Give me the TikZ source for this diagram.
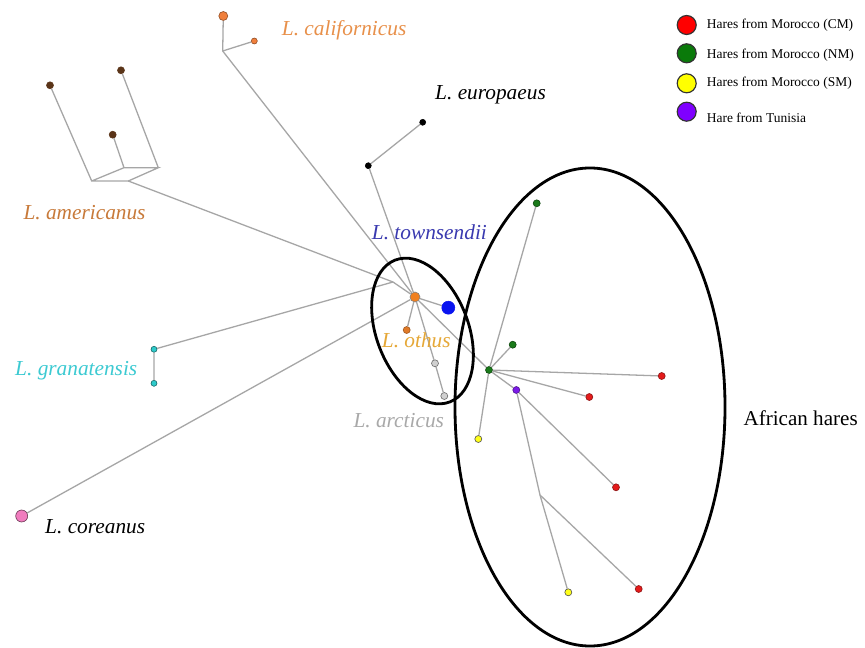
\documentclass[tikz,border=0pt]{standalone}
\usepackage{fontspec}
\setmainfont{Liberation Serif}
\definecolor{linegray}{HTML}{A6A6A6}
\definecolor{calLab}{HTML}{E8904A}
\definecolor{ameLab}{HTML}{C87A3A}
\definecolor{towLab}{HTML}{3A3AB0}
\definecolor{othLab}{HTML}{E6A837}
\definecolor{graLab}{HTML}{3CCAD2}
\definecolor{arcLab}{HTML}{A9A9A9}
\definecolor{calN}{HTML}{F07F3C}
\definecolor{ameN}{HTML}{5A3418}
\definecolor{hubN}{HTML}{F08020}
\definecolor{bluN}{HTML}{0A14F0}
\definecolor{othN}{HTML}{E07A28}
\definecolor{arcN}{HTML}{D0D0D0}
\definecolor{graN}{HTML}{2ECACA}
\definecolor{corN}{HTML}{F07CBE}
\definecolor{grnN}{HTML}{1A7A1A}
\definecolor{redN}{HTML}{E41B1B}
\definecolor{yelN}{HTML}{FFFF1A}
\definecolor{purN}{HTML}{7B1AE8}
\definecolor{legR}{HTML}{FF0000}
\definecolor{legG}{HTML}{0A7A0A}
\definecolor{legY}{HTML}{FFFF00}
\definecolor{legP}{HTML}{7F00FF}
\begin{document}
\begin{tikzpicture}[x=0.03cm,y=-0.03cm,
  br/.style={draw=linegray,line width=1.1pt},
  grp/.style={draw=black,line width=2.4pt},
  dot/.style={circle,inner sep=0pt,line width=0.5pt,minimum size=#1*0.06cm},
  spec/.style={anchor=base west,inner sep=0pt,font=\fontsize{18.2}{21}\selectfont\itshape},
  legtxt/.style={anchor=west,inner sep=0pt,font=\fontsize{11.5}{13}\selectfont},
  legdot/.style={circle,inner sep=0pt,line width=1pt,minimum size=19*0.03cm,draw=black!80}]
\useasboundingbox[fill=white] (0,0) rectangle (865,648);
% nodes
\node[dot=4.5,fill=calN,draw=calN!60!black] (cal1) at (223.3,16) {};
\node[dot=3,fill=calN,draw=calN!60!black] (cal2) at (254.3,41) {};
\coordinate (cj) at (222.7,51);
\node[dot=3.5,fill=ameN,draw=ameN] (am1) at (50,85.3) {};
\node[dot=3.5,fill=ameN,draw=ameN] (am2) at (121,70.3) {};
\node[dot=3.5,fill=ameN,draw=ameN] (am3) at (112.7,134.7) {};
\coordinate (amA) at (91.7,181);
\coordinate (amB) at (128.3,181);
\coordinate (amC) at (124,167.7);
\coordinate (amD) at (158.3,167.7);
\coordinate (J) at (393,282);
\node[dot=3,fill=black,draw=black] (eu1) at (368.3,165.7) {};
\node[dot=3,fill=black,draw=black] (eu2) at (422.7,122.3) {};
\node[dot=5,fill=hubN,draw=gray] (hub) at (415,297) {};
\node[dot=6.5,fill=bluN,draw=bluN] (blu) at (448.3,307.7) {};
\node[dot=3.5,fill=othN,draw=othN!70!black] (oth) at (406.7,330) {};
\node[dot=3.5,fill=arcN,draw=black!60] (arc1) at (435,363.3) {};
\node[dot=3.5,fill=arcN,draw=black!60] (arc2) at (444.3,396) {};
\node[dot=3,fill=graN,draw=graN!50!black] (gra1) at (154,349.3) {};
\node[dot=3,fill=graN,draw=graN!50!black] (gra2) at (154,383.3) {};
\node[dot=6,fill=corN,draw=corN!40!black] (cor) at (21.7,516) {};
\node[dot=3.5,fill=grnN,draw=grnN!60!black] (gh) at (489,370) {};
\node[dot=3.5,fill=grnN,draw=grnN!60!black] (g1) at (536.7,203.3) {};
\node[dot=3.5,fill=grnN,draw=grnN!60!black] (g2) at (512.7,344.7) {};
\node[dot=3.5,fill=redN,draw=redN!60!black] (r1) at (661.7,376) {};
\node[dot=3.5,fill=redN,draw=redN!60!black] (r2) at (589.3,397) {};
\node[dot=3.5,fill=redN,draw=redN!60!black] (r3) at (616,487.3) {};
\node[dot=3.5,fill=redN,draw=redN!60!black] (r4) at (638.7,589) {};
\node[dot=3.5,fill=purN,draw=purN!60!black] (pu) at (516.3,390) {};
\node[dot=3.5,fill=yelN,draw=black!70] (y1) at (478.3,439) {};
\node[dot=3.5,fill=yelN,draw=black!70] (y2) at (568.3,592.3) {};
\coordinate (K) at (540,495);
% branches
\draw[br] (cal1) -- (cj) -- (hub);
\draw[br] (cal2) -- (cj);
\draw[br] (am1) -- (amA) -- (amB) -- (amD) -- (amC) -- (amA);
\draw[br] (am2) -- (amD);
\draw[br] (am3) -- (amC);
\draw[br] (amB) -- (J) -- (hub);
\draw[br] (gra2) -- (gra1) -- (J);
\draw[br] (eu2) -- (eu1) -- (hub);
\draw[br] (cor) -- (hub);
\draw[br] (hub) -- (blu);
\draw[br] (hub) -- (oth);
\draw[br] (hub) -- (arc1) -- (arc2);
\draw[br] (hub) -- (gh);
\draw[br] (gh) -- (g1);
\draw[br] (gh) -- (g2);
\draw[br] (gh) -- (r1);
\draw[br] (gh) -- (r2);
\draw[br] (gh) -- (pu);
\draw[br] (gh) -- (y1);
\draw[br] (pu) -- (r3);
\draw[br] (pu) -- (K) -- (y2);
\draw[br] (K) -- (r4);
% groups
\draw[grp] (422.5,331) ellipse [x radius=1.38cm, y radius=2.28cm, rotate=21];
\draw[grp] (590,407) ellipse [x radius=4.05cm, y radius=7.17cm];
% labels
\node[spec,text=calLab] (lcal) at (281.7,36) {L. californicus};
\node[spec,text=black] (leu) at (435,99.3) {L. europaeus};
\node[spec,text=ameLab] (lame) at (23.3,219) {L. americanus};
\node[spec,text=towLab] (ltow) at (371.7,240) {L. townsendii};
\node[spec,text=othLab] (loth) at (381.7,347) {L. othus};
\node[spec,text=graLab] (lgra) at (15,375) {L. granatensis};
\node[spec,text=arcLab] (larc) at (353.3,427) {L. arcticus};
\node[spec,text=black] (lcor) at (45,533) {L. coreanus};
\node[anchor=base west,inner sep=0pt,font=\fontsize{18}{21}\selectfont] (laf) at (743.3,425) {African hares};
% legend
\node[legdot,fill=legR] (kR) at (686.7,25) {};
\node[legdot,fill=legG] (kG) at (686.7,53.3) {};
\node[legdot,fill=legY] (kY) at (686.7,83.3) {};
\node[legdot,fill=legP] (kP) at (686.7,111.7) {};
\node[legtxt] (tR) at (706.7,25) {Hares from Morocco (CM)};
\node[legtxt] (tG) at (706.7,55) {Hares from Morocco (NM)};
\node[legtxt] (tY) at (706.7,83.3) {Hares from Morocco (SM)};
\node[legtxt] (tP) at (706.7,118) {Hare from Tunisia};
\end{tikzpicture}
\end{document}
